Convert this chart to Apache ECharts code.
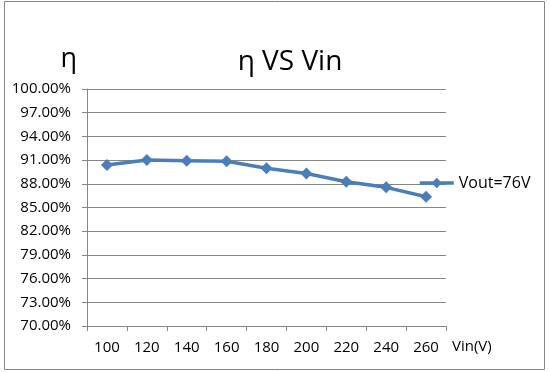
<!DOCTYPE html>
<html><head><meta charset="utf-8">
<script src="https://cdn.jsdelivr.net/npm/echarts@6/dist/echarts.min.js"></script>
<style>html,body{margin:0;padding:0;background:#fff}#c{width:550px;height:372px}</style>
</head><body><div id="c"></div>
<script>
var categories = ['100','120','140','160','180','200','220','240','260'];
var seriesName = 'Vout=76V';
var efficiency = [90.38, 91.0, 90.92, 90.85, 89.96, 89.3, 88.27, 87.55, 86.37];
var yMin = 70, yMax = 100, yStep = 3;

var chart = echarts.init(document.getElementById('c'));
var font = '"Open Sans", sans-serif';
chart.setOption({
  animation: false,
  title: {
    text: 'η VS Vin',
    left: 285, top: 43, textAlign: 'center',
    textStyle: {fontFamily: font, fontSize: 28, fontWeight: 'normal', color: '#000'}
  },
  legend: {
    data: [seriesName],
    left: 418, top: 175, padding: 0,
    itemWidth: 34, itemHeight: 13, itemGap: 5,
    lineStyle: {width: 3.5},
    textStyle: {fontFamily: font, fontSize: 16, color: '#000'}
  },
  grid: {left: 87, right: 104, top: 89, bottom: 46, containLabel: false},
  xAxis: {
    type: 'category', data: categories, boundaryGap: true,
    name: 'Vin(V)', nameLocation: 'end', nameGap: 6,
    nameTextStyle: {fontFamily: font, fontSize: 15, color: '#000', verticalAlign: 'top', padding: [13, 0, 0, 0]},
    axisLine: {lineStyle: {color: '#868686', width: 1}},
    axisTick: {show: true, alignWithLabel: false, length: 5, lineStyle: {color: '#868686'}},
    axisLabel: {fontFamily: font, fontSize: 15, color: '#000', margin: 14}
  },
  yAxis: {
    type: 'value', min: yMin, max: yMax, interval: yStep,
    name: 'η', nameLocation: 'end', nameGap: 16,
    nameTextStyle: {fontFamily: font, fontSize: 27, color: '#000', align: 'right', padding: [0, 10, 0, 0]},
    axisLine: {show: true, lineStyle: {color: '#868686', width: 1}},
    axisTick: {show: true, length: 5, lineStyle: {color: '#868686'}},
    axisLabel: {fontFamily: font, fontSize: 15, color: '#000', margin: 16,
      formatter: function (v) { return v.toFixed(2) + '%'; }},
    splitLine: {lineStyle: {color: '#868686', width: 1}}
  },
  series: [{
    name: seriesName, type: 'line', data: efficiency,
    symbol: 'diamond', symbolSize: 12,
    lineStyle: {color: '#4a7ebb', width: 3.5},
    itemStyle: {color: '#4a7ebb'}
  }],
  graphic: [{
    type: 'rect', shape: {x: 4.5, y: 1.5, width: 540, height: 368},
    style: {fill: 'none', stroke: '#868686', lineWidth: 1}, silent: true
  }]
});
</script></body></html>
